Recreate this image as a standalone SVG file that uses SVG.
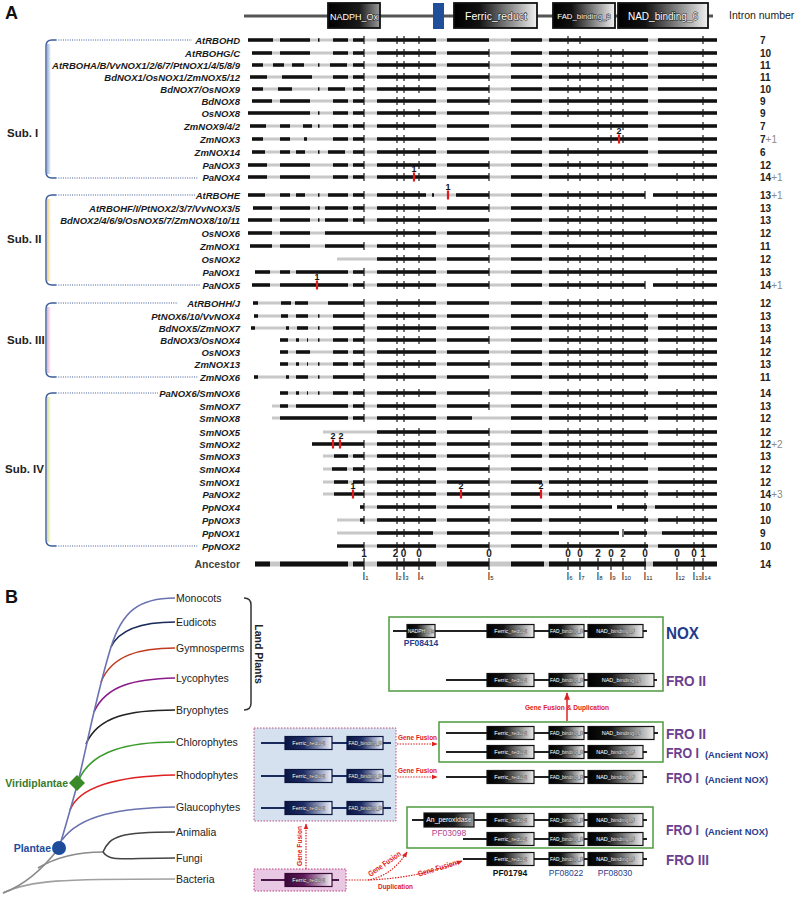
<svg xmlns="http://www.w3.org/2000/svg" xmlns:xlink="http://www.w3.org/1999/xlink" width="799" height="899" viewBox="0 0 799 899">
<style>
text{font-family:"Liberation Sans",Arial,sans-serif}
.lb{font-size:9.5px;font-weight:bold;font-style:italic;text-anchor:end;fill:#1a1a1a}
.ic{font-size:10px;font-weight:bold;fill:#222}
.pl{fill:#8a8a8a;font-weight:normal}
.gl{stroke:#c8c8c8;stroke-width:3.2;fill:none}
.bl{stroke:#111;stroke-width:3.4;fill:none}
.tk{stroke:#1a1a1a;stroke-width:1.2;fill:none}
.rd{stroke:#e01a1a;stroke-width:2.2;fill:none}
.rn{font-size:9px;font-weight:bold;text-anchor:middle;fill:#111}
.br{fill:none;stroke:#3d5c99;stroke-width:1.4}
.dt{fill:none;stroke:#3d5c99;stroke-width:1;stroke-dasharray:1 1.3}
.sub{font-size:11.5px;font-weight:bold;fill:#222}
.bt{fill:#fff;stroke:#111;stroke-width:.9px;paint-order:stroke;text-anchor:middle}
.st{fill:#fff;stroke:#222;stroke-width:.5px;paint-order:stroke;text-anchor:middle;font-size:5.5px}
.ln{stroke:#222;stroke-width:2;fill:none}
.lnN{stroke:#1a2a5a;stroke-width:2;fill:none}
.lnP{stroke:#4a1848;stroke-width:2;fill:none}
.bb{stroke:#111;stroke-width:1.2}
.tx{font-size:10.5px;fill:#222}
.fro{font-size:15px;font-weight:bold;fill:#6b3f91}
.anc{font-size:9.5px;font-weight:bold;fill:#1f3d8c}
.rt{font-size:8px;font-weight:bold;fill:#e02020}
.rdl{stroke:#e02020;stroke-width:1.2;fill:none;stroke-dasharray:1.5 1.2}
.gb{fill:none;stroke:#4e9a3e;stroke-width:1.5}
.an{font-size:10px;font-weight:bold;text-anchor:middle;fill:#222}
.il{font-size:10px;fill:#222}
.tr{fill:none;stroke-width:1.6}
</style>
<defs>
<linearGradient id="gH" x1="0" x2="1" y1="0" y2="0"><stop offset="0" stop-color="#000"/><stop offset=".3" stop-color="#111"/><stop offset="1" stop-color="#f2f2f2"/></linearGradient>
<linearGradient id="gO" x1="0" x2="1" y1="0" y2="0"><stop offset="0" stop-color="#000"/><stop offset=".6" stop-color="#1a1a1a"/><stop offset="1" stop-color="#9a9a9a"/></linearGradient>
<linearGradient id="gK" x1="0" x2="1" y1="0" y2="0"><stop offset="0" stop-color="#000"/><stop offset=".35" stop-color="#151515"/><stop offset="1" stop-color="#eeeeee"/></linearGradient>
<linearGradient id="gN" x1="0" x2="1" y1="0" y2="0"><stop offset="0" stop-color="#0a1540"/><stop offset=".4" stop-color="#1e2d66"/><stop offset="1" stop-color="#eef2fa"/></linearGradient>
<linearGradient id="gP" x1="0" x2="1" y1="0" y2="0"><stop offset="0" stop-color="#3a0838"/><stop offset=".4" stop-color="#5e1a5a"/><stop offset="1" stop-color="#f6eef6"/></linearGradient>
<linearGradient id="b1" x1="0" x2="1" y1="0" y2="0"><stop offset="0" stop-color="#8fb0dc"/><stop offset="1" stop-color="#fff"/></linearGradient>
<linearGradient id="b2" x1="0" x2="1" y1="0" y2="0"><stop offset="0" stop-color="#f0cf6a"/><stop offset="1" stop-color="#fff"/></linearGradient>
<linearGradient id="b3" x1="0" x2="1" y1="0" y2="0"><stop offset="0" stop-color="#e2b0cf"/><stop offset="1" stop-color="#fff"/></linearGradient>
<linearGradient id="b4" x1="0" x2="1" y1="0" y2="0"><stop offset="0" stop-color="#d6df8a"/><stop offset="1" stop-color="#fff"/></linearGradient>
<marker id="ar" viewBox="0 0 10 10" refX="9" refY="5" markerWidth="5" markerHeight="5" orient="auto"><path d="M0 1L10 5L0 9z" fill="#e02020"/></marker>
<path id="R1" d="M377 0H436M447 0H489M511 0H542M549 0H648M658 0H717"/>
<path id="R2" d="M377 0H436M447 0H489M511 0H542M549 0H717"/>
<path id="TA" d="M364-4v8M397-4v8M404-4v8M419-4v8M489-4v8M568-4v8M580-4v8M598-4v8M611-4v8M623-4v8M645-4v8M677-4v8M694-4v8M703-4v8"/>
<g id="dFer"><rect x="0" y="-6.5" width="47" height="13" fill="url(#gK)" class="bb"/><text x="23.5" y="2" class="st">Ferric_reduct</text></g>
<g id="dFad"><rect x="0" y="-6.5" width="35" height="13" fill="url(#gK)" class="bb"/><text x="17.5" y="1.8" class="st" style="font-size:4.8px">FAD_binding_8</text></g>
<g id="dNad"><rect x="0" y="-6.5" width="55" height="13" fill="url(#gK)" class="bb"/><text x="27.5" y="2" class="st">NAD_binding_6</text></g>
<g id="dNadL"><rect x="0" y="-6.5" width="66" height="13" fill="url(#gK)" class="bb"/><text x="33" y="2" class="st">NAD_binding_6</text></g>
<g id="dNadph"><rect x="0" y="-6.5" width="28" height="13" fill="url(#gK)" class="bb"/><text x="14" y="1.8" class="st" style="font-size:5px">NADPH_Ox</text></g>
<g id="dAnp"><rect x="0" y="-7" width="50" height="14" fill="url(#gO)" class="bb"/><text x="25" y="2.4" class="st" style="font-size:6.8px">An_peroxidase</text></g>
<g id="dFerN"><rect x="0" y="-6.5" width="47" height="13" fill="url(#gN)" stroke="#0a1540" stroke-width="1.2"/><text x="23.5" y="2" class="st">Ferric_reduct</text></g>
<g id="dFadN"><rect x="0" y="-6.5" width="36" height="13" fill="url(#gN)" stroke="#0a1540" stroke-width="1.2"/><text x="18" y="1.8" class="st" style="font-size:4.8px">FAD_binding_8</text></g>
<g id="dFerP"><rect x="0" y="-6.5" width="47" height="13" fill="url(#gP)" stroke="#3a0838" stroke-width="1.2"/><text x="23.5" y="2" class="st">Ferric_reduct</text></g>
</defs>
<rect width="799" height="899" fill="#fff"/>

<!-- Panel A -->
<text x="5" y="19" style="font-size:18px;font-weight:bold" fill="#111">A</text>
<g id="header">
<path d="M244 16H713" stroke="#555" stroke-width="3"/>
<rect x="328" y="3" width="52" height="25" fill="url(#gO)" stroke="#111" stroke-width="1.8"/>
<text x="354" y="19.5" class="bt" style="font-size:9px">NADPH_Ox</text>
<rect x="433" y="3" width="11" height="26" fill="#1f4e9a"/>
<rect x="454" y="3" width="83" height="25" fill="url(#gH)" stroke="#111" stroke-width="1.8"/>
<text x="496" y="20" class="bt" style="font-size:10.5px">Ferric_reduct</text>
<rect x="553" y="3" width="62" height="25" fill="url(#gH)" stroke="#111" stroke-width="1.8"/>
<text x="584" y="19" class="bt" style="font-size:7.8px">FAD_binding_8</text>
<rect x="618" y="3" width="90" height="25" fill="url(#gH)" stroke="#111" stroke-width="1.8"/>
<text x="663" y="20" class="bt" style="font-size:10px">NAD_binding_6</text>
<text x="729" y="19" style="font-size:10.5px" fill="#222">Intron number</text>
</g>

<g id="brackets">
<rect x="47" y="44" width="4" height="130" fill="url(#b1)"/>
<path class="br" d="M56 40H52Q46 40 46 46V172Q46 178 52 178H56"/>
<path class="dt" d="M56 40H192M56 178H198"/>
<text class="sub" x="7" y="137">Sub. I</text>
<rect x="47" y="199" width="4" height="82" fill="url(#b2)"/>
<path class="br" d="M56 195H52Q46 195 46 201V279Q46 285 52 285H56"/>
<path class="dt" d="M56 195H196M56 285H200"/>
<text class="sub" x="7" y="243">Sub. II</text>
<rect x="47" y="307" width="4" height="66" fill="url(#b3)"/>
<path class="br" d="M56 303H52Q46 303 46 309V371Q46 377 52 377H56"/>
<path class="dt" d="M56 303H178M56 377H198"/>
<text class="sub" x="7" y="344">Sub. III</text>
<rect x="47" y="397" width="4" height="145" fill="url(#b4)"/>
<path class="br" d="M56 393H52Q46 393 46 399V540Q46 546 52 546H56"/>
<path class="dt" d="M56 393H158M56 546H198"/>
<text class="sub" x="5" y="473">Sub. IV</text>
</g>

<g id="row-AtRBOHD" transform="translate(0,40)"><text class="lb" x="240" y="3.5">AtRBOHD</text><path class="gl" d="M248 0H717"/><path class="bl" d="M248 0H273M280 0H310M318 0H319.5M333 0H348M353 0H364"/><use href="#R1" class="bl"/><path class="tk" d="M364-4v8M397-4v8M404-4v8M419-4v8M568-4v8M580-4v8M703-4v8"/><text class="ic" x="760" y="3.5">7</text></g>
<g id="row-AtRBOHGC" transform="translate(0,53)"><text class="lb" x="240" y="3.5">AtRBOHG/C</text><path class="gl" d="M252 0H717"/><path class="bl" d="M252 0H272M280 0H310M333 0H348M353 0H364"/><use href="#R1" class="bl"/><path class="tk" d="M364-4v8M397-4v8M404-4v8M419-4v8M489-4v8M568-4v8M598-4v8M611-4v8M623-4v8M703-4v8"/><text class="ic" x="760" y="3.5">10</text></g>
<g id="row-AtRBOHA" transform="translate(0,65)"><text class="lb" x="240" y="3.5">AtRBOHA/B/VvNOX1/2/6/7/PtNOX1/4/5/8/9</text><path class="gl" d="M252 0H717"/><path class="bl" d="M252 0H263M273 0H284M292 0H304M318 0H319.5M330 0H347M353 0H364"/><use href="#R1" class="bl"/><path class="tk" d="M364-4v8M397-4v8M404-4v8M419-4v8M489-4v8M568-4v8M580-4v8M598-4v8M611-4v8M623-4v8M703-4v8"/><text class="ic" x="760" y="3.5">11</text></g>
<g id="row-BdNOX1" transform="translate(0,77)"><text class="lb" x="240" y="3.5">BdNOX1/OsNOX1/ZmNOX5/12</text><path class="gl" d="M250 0H717"/><path class="bl" d="M250 0H267M282 0H312M333 0H348M353 0H364"/><use href="#R1" class="bl"/><path class="tk" d="M364-4v8M397-4v8M404-4v8M419-4v8M489-4v8M568-4v8M580-4v8M598-4v8M611-4v8M623-4v8M703-4v8"/><text class="ic" x="760" y="3.5">11</text></g>
<g id="row-BdNOX7" transform="translate(0,89)"><text class="lb" x="240" y="3.5">BdNOX7/OsNOX9</text><path class="gl" d="M252 0H717"/><path class="bl" d="M252 0H263M278 0H292M318 0H319.5M328 0H345M353 0H364"/><use href="#R1" class="bl"/><path class="tk" d="M364-4v8M397-4v8M404-4v8M419-4v8M489-4v8M568-4v8M580-4v8M598-4v8M611-4v8M623-4v8"/><text class="ic" x="760" y="3.5">10</text></g>
<g id="row-BdNOX8" transform="translate(0,101)"><text class="lb" x="240" y="3.5">BdNOX8</text><path class="gl" d="M252 0H717"/><path class="bl" d="M252 0H272M280 0H310M333 0H348M353 0H364"/><use href="#R1" class="bl"/><path class="tk" d="M364-4v8M397-4v8M404-4v8M489-4v8M568-4v8M598-4v8M611-4v8M623-4v8M703-4v8"/><text class="ic" x="760" y="3.5">9</text></g>
<g id="row-OsNOX8" transform="translate(0,113)"><text class="lb" x="240" y="3.5">OsNOX8</text><path class="gl" d="M248 0H717"/><path class="bl" d="M248 0H310M318 0H319.5M333 0H348M353 0H364"/><use href="#R1" class="bl"/><path class="tk" d="M364-4v8M397-4v8M404-4v8M419-4v8M568-4v8M598-4v8M611-4v8M623-4v8M703-4v8"/><text class="ic" x="760" y="3.5">9</text></g>
<g id="row-ZmNOX9" transform="translate(0,126)"><text class="lb" x="240" y="3.5">ZmNOX9/4/2</text><path class="gl" d="M250 0H717"/><path class="bl" d="M250 0H266M280 0H290M303 0H312M318 0H319.5M333 0H348M353 0H364"/><use href="#R1" class="bl"/><path class="tk" d="M364-4v8M397-4v8M404-4v8M598-4v8M611-4v8M623-4v8M703-4v8"/><text class="ic" x="760" y="3.5">7</text></g>
<g id="row-ZmNOX3" transform="translate(0,139)"><text class="lb" x="240" y="3.5">ZmNOX3</text><path class="gl" d="M252 0H717"/><path class="bl" d="M252 0H263M280 0H290M304 0H307M333 0H348M353 0H364"/><use href="#R1" class="bl"/><path class="tk" d="M364-4v8M397-4v8M404-4v8M598-4v8M611-4v8M623-4v8M703-4v8"/><path class="rd" d="M619-4.5v9"/><text class="rn" x="619" y="-5.5">2</text><text class="ic" x="760" y="3.5">7<tspan class="pl">+1</tspan></text></g>
<g id="row-ZmNOX14" transform="translate(0,152)"><text class="lb" x="240" y="3.5">ZmNOX14</text><path class="gl" d="M252 0H717"/><path class="bl" d="M252 0H265M280 0H290M296 0H305M318 0H319.5M328 0H345M353 0H364"/><use href="#R1" class="bl"/><path class="tk" d="M364-4v8M397-4v8M404-4v8M419-4v8M568-4v8M598-4v8M703-4v8"/><text class="ic" x="760" y="3.5">6</text></g>
<g id="row-PaNOX3" transform="translate(0,165)"><text class="lb" x="240" y="3.5">PaNOX3</text><path class="gl" d="M248 0H717"/><path class="bl" d="M248 0H267M280 0H310M333 0H348M353 0H364"/><use href="#R1" class="bl"/><path class="tk" d="M364-4v8M397-4v8M404-4v8M419-4v8M489-4v8M568-4v8M580-4v8M598-4v8M611-4v8M623-4v8M694-4v8M703-4v8"/><text class="ic" x="760" y="3.5">12</text></g>
<g id="row-PaNOX4" transform="translate(0,177)"><text class="lb" x="240" y="3.5">PaNOX4</text><path class="gl" d="M248 0H717"/><path class="bl" d="M248 0H267M280 0H310M333 0H348M353 0H364"/><use href="#R2" class="bl"/><use href="#TA" class="tk"/><path class="rd" d="M414-4.5v9"/><text class="rn" x="414" y="-5.5">1</text><text class="ic" x="760" y="3.5">14<tspan class="pl">+1</tspan></text></g>

<g id="row-AtRBOHE" transform="translate(0,195)"><text class="lb" x="240" y="3.5">AtRBOHE</text><path class="gl" d="M248 0H645M653 0H717"/><path class="bl" d="M248 0H265M280 0H290M296 0H305M318 0H319.5M328 0H348M353 0H364M377 0H426M432 0H434M456 0H489M511 0H542M549 0H645M653 0H717"/><use href="#TA" class="tk"/><path class="rd" d="M448-4.5v9"/><text class="rn" x="448" y="-5.5">1</text><text class="ic" x="760" y="3.5">13<tspan class="pl">+1</tspan></text></g>
<g id="row-AtRBOHF" transform="translate(0,208)"><text class="lb" x="240" y="3.5">AtRBOHF/I/PtNOX2/3/7/VvNOX3/5</text><path class="gl" d="M253 0H717"/><path class="bl" d="M253 0H272M280 0H310M318 0H319.5M325 0H348M353 0H364"/><use href="#R2" class="bl"/><path class="tk" d="M364-4v8M397-4v8M404-4v8M419-4v8M489-4v8M568-4v8M580-4v8M598-4v8M611-4v8M623-4v8M677-4v8M694-4v8M703-4v8"/><text class="ic" x="760" y="3.5">13</text></g>
<g id="row-BdNOX2" transform="translate(0,220)"><text class="lb" x="240" y="3.5">BdNOX2/4/6/9/OsNOX5/7/ZmNOX8/10/11</text><path class="gl" d="M248 0H717"/><path class="bl" d="M248 0H272M280 0H310M318 0H319.5M325 0H348M353 0H364M377 0H489M511 0H542M549 0H717"/><path class="tk" d="M364-4v8M397-4v8M404-4v8M419-4v8M568-4v8M580-4v8M598-4v8M611-4v8M623-4v8M645-4v8M677-4v8M694-4v8M703-4v8"/><text class="ic" x="760" y="3.5">13</text></g>
<g id="row-OsNOX6" transform="translate(0,233)"><text class="lb" x="240" y="3.5">OsNOX6</text><path class="gl" d="M248 0H717"/><path class="bl" d="M248 0H272M280 0H310M325 0H377"/><use href="#R2" class="bl"/><path class="tk" d="M397-4v8M404-4v8M419-4v8M489-4v8M568-4v8M580-4v8M598-4v8M611-4v8M623-4v8M645-4v8M694-4v8M703-4v8"/><text class="ic" x="760" y="3.5">12</text></g>
<g id="row-ZmNOX1" transform="translate(0,246)"><text class="lb" x="240" y="3.5">ZmNOX1</text><path class="gl" d="M250 0H717"/><path class="bl" d="M250 0H272M280 0H310M325 0H364"/><use href="#R2" class="bl"/><path class="tk" d="M364-4v8M397-4v8M404-4v8M419-4v8M489-4v8M568-4v8M598-4v8M611-4v8M623-4v8M694-4v8M703-4v8"/><text class="ic" x="760" y="3.5">11</text></g>
<g id="row-OsNOX2" transform="translate(0,259)"><text class="lb" x="240" y="3.5">OsNOX2</text><path class="gl" d="M337 0H717"/><use href="#R2" class="bl"/><path class="tk" d="M397-4v8M404-4v8M419-4v8M489-4v8M568-4v8M580-4v8M598-4v8M611-4v8M623-4v8M645-4v8M694-4v8M703-4v8"/><text class="ic" x="760" y="3.5">12</text></g>
<g id="row-PaNOX1" transform="translate(0,272)"><text class="lb" x="240" y="3.5">PaNOX1</text><path class="gl" d="M255 0H717"/><path class="bl" d="M255 0H270M280 0H290M296 0H348M353 0H364"/><use href="#R2" class="bl"/><path class="tk" d="M364-4v8M397-4v8M404-4v8M419-4v8M489-4v8M568-4v8M580-4v8M598-4v8M611-4v8M623-4v8M677-4v8M694-4v8M703-4v8"/><text class="ic" x="760" y="3.5">13</text></g>
<g id="row-PaNOX5" transform="translate(0,285)"><text class="lb" x="240" y="3.5">PaNOX5</text><path class="gl" d="M252 0H645M653 0H717"/><path class="bl" d="M252 0H270M280 0H348M353 0H364M377 0H436M447 0H489M511 0H542M549 0H645M653 0H717"/><use href="#TA" class="tk"/><path class="rd" d="M317-4.5v9"/><text class="rn" x="317" y="-5.5">1</text><text class="ic" x="760" y="3.5">14<tspan class="pl">+1</tspan></text></g>

<g id="row-AtRBOHHJ" transform="translate(0,303)"><text class="lb" x="240" y="3.5">AtRBOHH/J</text><path class="gl" d="M253 0H717"/><path class="bl" d="M253 0H258M281 0H291M295 0H308M328 0H364"/><use href="#R2" class="bl"/><path class="tk" d="M364-4v8M397-4v8M419-4v8M568-4v8M580-4v8M598-4v8M611-4v8M623-4v8M645-4v8M677-4v8M694-4v8M703-4v8"/><text class="ic" x="760" y="3.5">12</text></g>
<g id="row-PtNOX6" transform="translate(0,316)"><text class="lb" x="240" y="3.5">PtNOX6/10/VvNOX4</text><path class="gl" d="M254 0H717"/><path class="bl" d="M254 0H258M281 0H288M296 0H308M318 0H319.5M333 0H364"/><use href="#R1" class="bl"/><path class="tk" d="M364-4v8M397-4v8M404-4v8M419-4v8M568-4v8M580-4v8M598-4v8M611-4v8M623-4v8M645-4v8M677-4v8M694-4v8M703-4v8"/><text class="ic" x="760" y="3.5">13</text></g>
<g id="row-BdNOX5" transform="translate(0,328)"><text class="lb" x="240" y="3.5">BdNOX5/ZmNOX7</text><path class="gl" d="M251 0H717"/><path class="bl" d="M251 0H255M286 0H289M297 0H308M318 0H319.5M333 0H364"/><use href="#R1" class="bl"/><path class="tk" d="M364-4v8M397-4v8M404-4v8M419-4v8M568-4v8M580-4v8M598-4v8M611-4v8M623-4v8M645-4v8M677-4v8M694-4v8M703-4v8"/><text class="ic" x="760" y="3.5">13</text></g>
<g id="row-BdNOX3" transform="translate(0,340)"><text class="lb" x="240" y="3.5">BdNOX3/OsNOX4</text><path class="gl" d="M280 0H717"/><path class="bl" d="M280 0H288M296 0H299M307 0H308M318 0H319.5M333 0H348M353 0H364"/><use href="#R1" class="bl"/><use href="#TA" class="tk"/><text class="ic" x="760" y="3.5">14</text></g>
<g id="row-OsNOX3" transform="translate(0,352)"><text class="lb" x="240" y="3.5">OsNOX3</text><path class="gl" d="M280 0H717"/><path class="bl" d="M280 0H288M296 0H310M333 0H348M353 0H364"/><use href="#R1" class="bl"/><path class="tk" d="M364-4v8M397-4v8M404-4v8M568-4v8M580-4v8M598-4v8M611-4v8M623-4v8M645-4v8M677-4v8M694-4v8M703-4v8"/><text class="ic" x="760" y="3.5">12</text></g>
<g id="row-ZmNOX13" transform="translate(0,364)"><text class="lb" x="240" y="3.5">ZmNOX13</text><path class="gl" d="M280 0H717"/><path class="bl" d="M280 0H288M296 0H299M307 0H308M318 0H319.5M333 0H348M353 0H364"/><use href="#R1" class="bl"/><path class="tk" d="M364-4v8M397-4v8M404-4v8M419-4v8M489-4v8M568-4v8M580-4v8M598-4v8M611-4v8M623-4v8M645-4v8M694-4v8M703-4v8"/><text class="ic" x="760" y="3.5">13</text></g>
<g id="row-ZmNOX6" transform="translate(0,377)"><text class="lb" x="240" y="3.5">ZmNOX6</text><path class="gl" d="M254 0H717"/><path class="bl" d="M254 0H258M286 0H289M296 0H308M318 0H319.5M333 0H364"/><use href="#R1" class="bl"/><path class="tk" d="M364-4v8M397-4v8M404-4v8M568-4v8M580-4v8M598-4v8M611-4v8M623-4v8M645-4v8M694-4v8M703-4v8"/><text class="ic" x="760" y="3.5">11</text></g>

<g id="row-PaNOX6" transform="translate(0,393)"><text class="lb" x="240" y="3.5">PaNOX6/SmNOX6</text><path class="gl" d="M280 0H717"/><path class="bl" d="M280 0H288M296 0H299M307 0H308M318 0H319.5M333 0H348M353 0H364"/><use href="#R1" class="bl"/><use href="#TA" class="tk"/><text class="ic" x="760" y="3.5">14</text></g>
<g id="row-SmNOX7" transform="translate(0,406)"><text class="lb" x="240" y="3.5">SmNOX7</text><path class="gl" d="M272 0H717"/><path class="bl" d="M280 0H288M296 0H348M353 0H364"/><use href="#R2" class="bl"/><path class="tk" d="M364-4v8M397-4v8M404-4v8M489-4v8M568-4v8M580-4v8M598-4v8M611-4v8M623-4v8M645-4v8M677-4v8M694-4v8M703-4v8"/><text class="ic" x="760" y="3.5">13</text></g>
<g id="row-SmNOX8" transform="translate(0,418)"><text class="lb" x="240" y="3.5">SmNOX8</text><path class="gl" d="M272 0H717"/><path class="bl" d="M280 0H348M353 0H364M377 0H436M447 0H472M511 0H542M549 0H648M658 0H717"/><path class="tk" d="M364-4v8M397-4v8M404-4v8M568-4v8M580-4v8M598-4v8M611-4v8M623-4v8M645-4v8M677-4v8M694-4v8M703-4v8"/><text class="ic" x="760" y="3.5">12</text></g>
<g id="row-SmNOX5" transform="translate(0,432)"><text class="lb" x="240" y="3.5">SmNOX5</text><path class="gl" d="M323 0H717"/><use href="#R1" class="bl"/><path class="tk" d="M397-4v8M404-4v8M419-4v8M489-4v8M568-4v8M580-4v8M598-4v8M611-4v8M623-4v8M677-4v8M694-4v8M703-4v8"/><text class="ic" x="760" y="3.5">12</text></g>
<g id="row-SmNOX2" transform="translate(0,444)"><text class="lb" x="240" y="3.5">SmNOX2</text><path class="gl" d="M312 0H717"/><path class="bl" d="M312 0H364"/><use href="#R1" class="bl"/><path class="tk" d="M364-4v8M397-4v8M404-4v8M419-4v8M489-4v8M568-4v8M580-4v8M598-4v8M611-4v8M623-4v8M694-4v8M703-4v8"/><path class="rd" d="M333-4.5v9M340-4.5v9"/><text class="rn" x="333" y="-5.5">2</text><text class="rn" x="341" y="-5.5">2</text><text class="ic" x="760" y="3.5">12<tspan class="pl">+2</tspan></text></g>
<g id="row-SmNOX3" transform="translate(0,456)"><text class="lb" x="240" y="3.5">SmNOX3</text><path class="gl" d="M323 0H717"/><path class="bl" d="M334 0H348M353 0H364"/><use href="#R2" class="bl"/><path class="tk" d="M364-4v8M397-4v8M404-4v8M419-4v8M489-4v8M568-4v8M580-4v8M598-4v8M611-4v8M623-4v8M645-4v8M694-4v8M703-4v8"/><text class="ic" x="760" y="3.5">13</text></g>
<g id="row-SmNOX4" transform="translate(0,469)"><text class="lb" x="240" y="3.5">SmNOX4</text><path class="gl" d="M323 0H717"/><path class="bl" d="M332 0H347M353 0H364"/><use href="#R1" class="bl"/><path class="tk" d="M364-4v8M397-4v8M404-4v8M419-4v8M489-4v8M568-4v8M580-4v8M598-4v8M611-4v8M623-4v8M694-4v8M703-4v8"/><text class="ic" x="760" y="3.5">12</text></g>
<g id="row-SmNOX1" transform="translate(0,482)"><text class="lb" x="240" y="3.5">SmNOX1</text><path class="gl" d="M323 0H717"/><path class="bl" d="M334 0H348M353 0H364"/><use href="#R1" class="bl"/><path class="tk" d="M364-4v8M397-4v8M404-4v8M419-4v8M489-4v8M568-4v8M580-4v8M598-4v8M611-4v8M623-4v8M694-4v8M703-4v8"/><text class="ic" x="760" y="3.5">12</text></g>
<g id="row-PaNOX2" transform="translate(0,494)"><text class="lb" x="240" y="3.5">PaNOX2</text><path class="gl" d="M323 0H717"/><path class="bl" d="M334 0H364"/><use href="#R1" class="bl"/><use href="#TA" class="tk"/><path class="rd" d="M353-4.5v9M461-4.5v9M541-4.5v9"/><text class="rn" x="353" y="-5.5">1</text><text class="rn" x="461" y="-5.5">2</text><text class="rn" x="541" y="-5.5">2</text><text class="ic" x="760" y="3.5">14<tspan class="pl">+3</tspan></text></g>
<g id="row-PpNOX4" transform="translate(0,507)"><text class="lb" x="240" y="3.5">PpNOX4</text><path class="gl" d="M360 0H612M617 0H717"/><path class="bl" d="M360 0H364M377 0H436M447 0H489M511 0H542M549 0H612M617 0H647M655 0H717"/><path class="tk" d="M364-4v8M397-4v8M404-4v8M419-4v8M489-4v8M580-4v8M623-4v8M645-4v8M694-4v8M703-4v8"/><text class="ic" x="760" y="3.5">10</text></g>
<g id="row-PpNOX3" transform="translate(0,520)"><text class="lb" x="240" y="3.5">PpNOX3</text><path class="gl" d="M337 0H717"/><path class="bl" d="M360 0H364"/><use href="#R1" class="bl"/><path class="tk" d="M364-4v8M397-4v8M404-4v8M419-4v8M489-4v8M580-4v8M645-4v8M677-4v8M694-4v8M703-4v8"/><text class="ic" x="760" y="3.5">10</text></g>
<g id="row-PpNOX1" transform="translate(0,533)"><text class="lb" x="240" y="3.5">PpNOX1</text><path class="gl" d="M337 0H619M624 0H717"/><path class="bl" d="M377 0H433M447 0H489M511 0H542M549 0H619M624 0H647M662 0H717"/><path class="tk" d="M397-4v8M404-4v8M419-4v8M489-4v8M580-4v8M623-4v8M645-4v8M694-4v8M703-4v8"/><text class="ic" x="760" y="3.5">9</text></g>
<g id="row-PpNOX2" transform="translate(0,546)"><text class="lb" x="240" y="3.5">PpNOX2</text><path class="gl" d="M337 0H717"/><path class="bl" d="M337 0H364"/><use href="#R1" class="bl"/><path class="tk" d="M364-4v8M397-4v8M404-4v8M419-4v8M489-4v8M568-4v8M580-4v8M645-4v8M694-4v8M703-4v8"/><text class="ic" x="760" y="3.5">10</text></g>

<g id="row-Ancestor" transform="translate(0,564)">
<text x="240" y="4" style="font-size:10.5px;font-weight:bold;text-anchor:end" fill="#444">Ancestor</text>
<path d="M255 0H717" stroke="#c8c8c8" stroke-width="5"/>
<path d="M255 0H270M280 0H348M353 0H364M377 0H436M447 0H489M511 0H544M549 0H646M653 0H717" stroke="#111" stroke-width="5" fill="none"/>
<path class="tk" d="M364-6v12M397-6v12M404-6v12M419-6v12M489-6v12M568-6v12M580-6v12M598-6v12M611-6v12M623-6v12M645-6v12M677-6v12M694-6v12M703-6v12"/>
<text class="an" x="364" y="-7.5">1</text><text class="an" x="395.5" y="-7.5">2</text><text class="an" x="403.5" y="-7.5">0</text><text class="an" x="419" y="-7.5">0</text><text class="an" x="489" y="-7.5">0</text><text class="an" x="568" y="-7.5">0</text><text class="an" x="580" y="-7.5">0</text><text class="an" x="598" y="-7.5">2</text><text class="an" x="611" y="-7.5">0</text><text class="an" x="623" y="-7.5">2</text><text class="an" x="645" y="-7.5">0</text><text class="an" x="677" y="-7.5">0</text><text class="an" x="694" y="-7.5">0</text><text class="an" x="703" y="-7.5">1</text>
<text class="ic" x="760" y="4">14</text>
</g>
<g id="intron-labels" class="il">
<text x="362.5" y="580">I<tspan style="font-size:6px">1</tspan></text>
<text x="395.5" y="580">I<tspan style="font-size:6px">2</tspan></text>
<text x="402.5" y="580">I<tspan style="font-size:6px">3</tspan></text>
<text x="417.5" y="580">I<tspan style="font-size:6px">4</tspan></text>
<text x="487.5" y="580">I<tspan style="font-size:6px">5</tspan></text>
<text x="566.5" y="580">I<tspan style="font-size:6px">6</tspan></text>
<text x="578.5" y="580">I<tspan style="font-size:6px">7</tspan></text>
<text x="596.5" y="580">I<tspan style="font-size:6px">8</tspan></text>
<text x="609.5" y="580">I<tspan style="font-size:6px">9</tspan></text>
<text x="621.5" y="580">I<tspan style="font-size:6px">10</tspan></text>
<text x="643.5" y="580">I<tspan style="font-size:6px">11</tspan></text>
<text x="675.5" y="580">I<tspan style="font-size:6px">12</tspan></text>
<text x="692.5" y="580">I<tspan style="font-size:6px">13</tspan></text>
<text x="701.5" y="580">I<tspan style="font-size:6px">14</tspan></text>
</g>

<!-- Panel B -->
<text x="5" y="603" style="font-size:18px;font-weight:bold" fill="#111">B</text>
<g id="tree">
<path class="tr" stroke="#a0a0a0" d="M3 893C30 880 60 879 175 879"/>
<path class="tr" stroke="#8a8a8a" d="M3 893C25 885 42 870 59 848"/>
<path class="tr" stroke="#8a8a8a" d="M38 868C58 856 80 852 103 852"/>
<path class="tr" stroke="#444" d="M103 852C110 836 120 832 175 832"/>
<path class="tr" stroke="#444" d="M103 852C110 862 120 858 175 858"/>
<path class="tr" stroke="#6a72b0" d="M62 840C80 815 120 808 175 807"/>
<path class="tr" stroke="#e02020" d="M70 810C80 785 120 776 175 775"/>
<path class="tr" stroke="#3a9a2a" d="M78 782C90 750 130 742 175 742"/>
<path class="tr" stroke="#222" d="M86 744C98 716 130 710 175 710"/>
<path class="tr" stroke="#8a1a8a" d="M94 712C106 685 135 679 175 678"/>
<path class="tr" stroke="#c03a20" d="M101 682C112 655 140 648 175 648"/>
<path class="tr" stroke="#1a2a5a" d="M111 647C120 628 145 622 175 622"/>
<path class="tr" stroke="#6a72b0" d="M59 848C66 825 73 800 78 782C83 762 90 728 94 712C98 695 106 663 111 647C122 612 138 598 175 598"/>
<circle cx="59" cy="848" r="7" fill="#1e4c9a"/>
<path d="M77 775L85 783L77 791L69 783Z" fill="#3a8a2a"/>
<text x="51" y="852" style="font-size:10.5px;font-weight:bold;text-anchor:end" fill="#1e4c9a">Plantae</text>
<text x="68" y="787" style="font-size:10.5px;font-weight:bold;text-anchor:end" fill="#3a7a2a">Viridiplantae</text>
<text class="tx" x="176" y="602">Monocots</text>
<text class="tx" x="176" y="626">Eudicots</text>
<text class="tx" x="176" y="652">Gymnosperms</text>
<text class="tx" x="176" y="682">Lycophytes</text>
<text class="tx" x="176" y="714">Bryophytes</text>
<text class="tx" x="176" y="746">Chlorophytes</text>
<text class="tx" x="176" y="779">Rhodophytes</text>
<text class="tx" x="176" y="811">Glaucophytes</text>
<text class="tx" x="176" y="836">Animalia</text>
<text class="tx" x="176" y="862">Fungi</text>
<text class="tx" x="176" y="883" fill="#888">Bacteria</text>
<path d="M244 598Q251 598 251 605V703Q251 710 244 710" fill="none" stroke="#333" stroke-width="1.5"/>
<text transform="translate(255,654) rotate(90)" style="font-size:10.5px;font-weight:bold;text-anchor:middle" fill="#222">Land Plants</text>
</g>

<g id="ancestral-boxes">
<rect x="254" y="728" width="142" height="93" fill="#d5e1ef" stroke="#c05080" stroke-width="1" stroke-dasharray="1.5 1.5"/>
<path class="lnN" d="M261 743H391M261 776H391M261 808H391"/>
<use href="#dFerN" x="285" y="743"/><use href="#dFadN" x="347" y="743"/>
<use href="#dFerN" x="285" y="776"/><use href="#dFadN" x="347" y="776"/>
<use href="#dFerN" x="285" y="808"/><use href="#dFadN" x="347" y="808"/>
<rect x="254" y="869" width="92" height="22" fill="#e8c8e2" stroke="#c04080" stroke-width="1" stroke-dasharray="1.5 1.5"/>
<path class="lnP" d="M261 880H339"/>
<use href="#dFerP" x="285" y="880"/>
</g>

<g id="nox-box">
<rect class="gb" x="389" y="617" width="274" height="74"/>
<path class="ln" d="M393 631H647"/>
<use href="#dNadph" x="407" y="631"/><use href="#dFer" x="487" y="631"/><use href="#dFad" x="549" y="631"/><use href="#dNad" x="588" y="631"/>
<text x="421" y="646" style="font-size:8.5px;font-weight:bold;text-anchor:middle" fill="#1f3d8c">PF08414</text>
<path class="ln" d="M446 680H657"/>
<use href="#dFer" x="487" y="680"/><use href="#dFad" x="549" y="680"/><use href="#dNadL" x="588" y="680"/>
<text x="666" y="639" style="font-size:17px;font-weight:bold" fill="#1e3c8c" textLength="33" lengthAdjust="spacingAndGlyphs">NOX</text>
<text class="fro" x="666" y="686" textLength="40" lengthAdjust="spacingAndGlyphs">FRO II</text>
</g>

<g id="fro-box2">
<rect class="gb" x="439" y="722" width="224" height="40"/>
<path class="ln" d="M446 733H658M446 752H647"/>
<use href="#dFer" x="487" y="733"/><use href="#dFad" x="549" y="733"/><use href="#dNadL" x="588" y="733"/>
<use href="#dFer" x="487" y="752"/><use href="#dFad" x="549" y="752"/><use href="#dNad" x="588" y="752"/>
<text class="fro" x="666" y="739" textLength="40" lengthAdjust="spacingAndGlyphs">FRO II</text>
<text class="fro" x="666" y="758" textLength="33" lengthAdjust="spacingAndGlyphs">FRO I</text><text class="anc" x="705" y="758" textLength="63" lengthAdjust="spacingAndGlyphs">(Ancient NOX)</text>
</g>

<g id="fro-standalone">
<path class="ln" d="M446 777H647"/>
<use href="#dFer" x="487" y="777"/><use href="#dFad" x="549" y="777"/><use href="#dNad" x="588" y="777"/>
<text class="fro" x="666" y="783" textLength="33" lengthAdjust="spacingAndGlyphs">FRO I</text><text class="anc" x="705" y="783" textLength="63" lengthAdjust="spacingAndGlyphs">(Ancient NOX)</text>
</g>

<g id="fro-box3">
<rect class="gb" x="407" y="807" width="246" height="41"/>
<path class="ln" d="M412 820H647M463 839H647"/>
<use href="#dAnp" x="424" y="820"/><use href="#dFer" x="487" y="820"/><use href="#dFad" x="549" y="820"/><use href="#dNad" x="588" y="820"/>
<use href="#dFer" x="487" y="839"/><use href="#dFad" x="549" y="839"/><use href="#dNad" x="588" y="839"/>
<text x="449" y="836" style="font-size:8.5px;text-anchor:middle" fill="#b0408e">PF03098</text>
<text class="fro" x="666" y="835" textLength="33" lengthAdjust="spacingAndGlyphs">FRO I</text><text class="anc" x="705" y="835" textLength="63" lengthAdjust="spacingAndGlyphs">(Ancient NOX)</text>
</g>

<g id="fro-III">
<path class="ln" d="M463 859H647"/>
<use href="#dFer" x="487" y="859"/><use href="#dFad" x="549" y="859"/><use href="#dNad" x="588" y="859"/>
<text class="fro" x="666" y="865" textLength="43" lengthAdjust="spacingAndGlyphs">FRO III</text>
<text x="510" y="876" style="font-size:8.5px;font-weight:bold;text-anchor:middle" fill="#111">PF01794</text>
<text x="566" y="876" style="font-size:8.5px;text-anchor:middle" fill="#1f3d8c">PF08022</text>
<text x="615" y="876" style="font-size:8.5px;text-anchor:middle" fill="#1f3d8c">PF08030</text>
</g>

<g id="connectors">
<path d="M567 721V693" stroke="#e02020" stroke-width="1.5" fill="none" marker-end="url(#ar)"/>
<text class="rt" x="567" y="710" text-anchor="middle" textLength="84" lengthAdjust="spacingAndGlyphs">Gene Fusion &amp; Duplication</text>
<path class="rdl" d="M397 744H437" marker-end="url(#ar)"/>
<text class="rt" x="398" y="740" textLength="39" lengthAdjust="spacingAndGlyphs">Gene Fusion</text>
<path class="rdl" d="M397 777H437" marker-end="url(#ar)"/>
<text class="rt" x="398" y="773" textLength="39" lengthAdjust="spacingAndGlyphs">Gene Fusion</text>
<path class="rdl" d="M306 869V824" marker-end="url(#ar)"/>
<text class="rt" transform="translate(302,846) rotate(-90)" text-anchor="middle" textLength="40" lengthAdjust="spacingAndGlyphs">Gene Fusion</text>
<path class="rdl" d="M346 880H368Q392 876 407 852" marker-end="url(#ar)"/>
<path class="rdl" d="M368 880Q420 878 462 861" marker-end="url(#ar)"/>
<text class="rt" transform="translate(386,866) rotate(-35)" text-anchor="middle" textLength="38" lengthAdjust="spacingAndGlyphs">Gene Fusion</text>
<text class="rt" transform="translate(438,871) rotate(-17)" text-anchor="middle" textLength="40" lengthAdjust="spacingAndGlyphs">Gene Fusion</text>
<text class="rt" x="378" y="889" textLength="35" lengthAdjust="spacingAndGlyphs">Duplication</text>
</g>
</svg>
